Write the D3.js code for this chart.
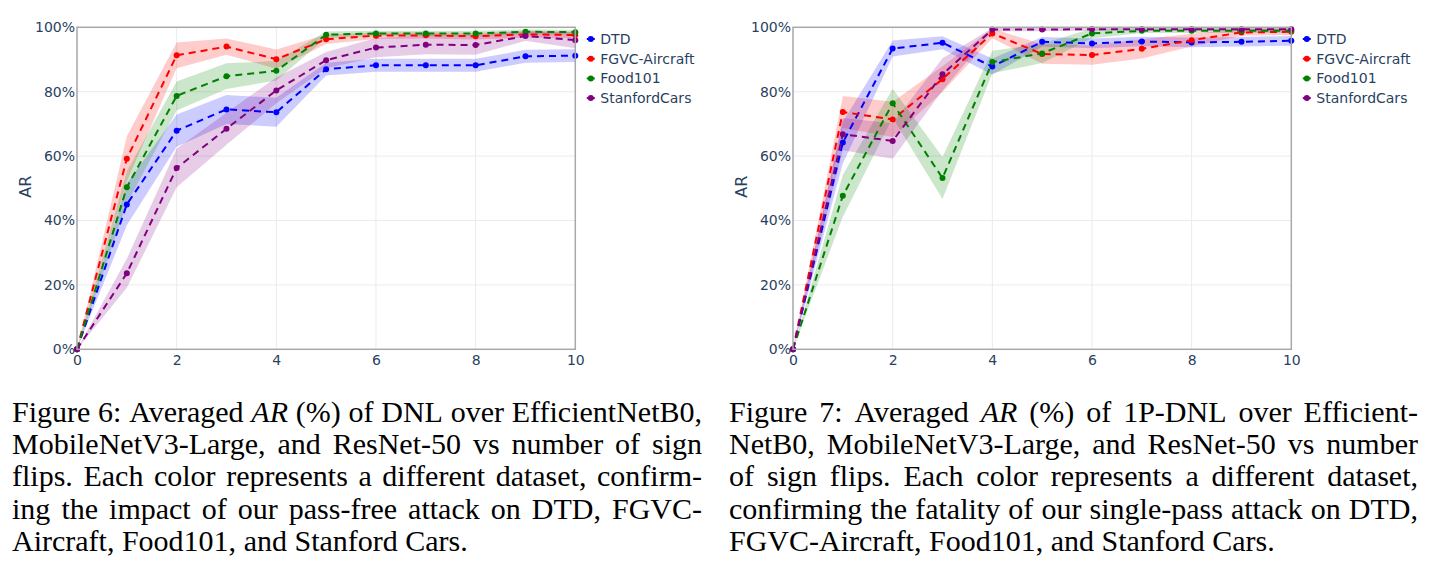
<!DOCTYPE html>
<html>
<head>
<meta charset="utf-8">
<style>
body {
    margin: 0;
    background: #fff;
}
.tick text {
    font-family: "DejaVu Sans", sans-serif;
    font-size: 14px;
    fill: #2a3f5f;
}
.legend text {
    font-family: "DejaVu Sans", sans-serif;
    font-size: 14px;
    fill: #2a3f5f;
}
.caption text {
    font-family: "Liberation Serif", "Times New Roman", serif;
    font-size: 30px;
    fill: #000;
}
</style>
</head>
<body>
<svg id="fig" width="1434" height="576"></svg>
<script src="https://d3js.org/d3.v7.min.js"></script>
<script>
// number of sign flips on the x axis
var flips = [0, 1, 2, 3, 4, 5, 6, 7, 8, 9, 10];
var datasets = ["DTD", "FGVC-Aircraft", "Food101", "StanfordCars"];
var colors = ["blue", "red", "green", "purple"];
var xTicks = [0, 2, 4, 6, 8, 10];
var yTicks = [0, 20, 40, 60, 80, 100];

// Figure 6 - DNL (mean AR %, and half-width of shaded band)
var dnlDTD     = [0, 45.0, 67.9, 74.5, 73.6, 87.0, 88.2, 88.2, 88.2, 91.0, 91.2];
var dnlDTDErr  = [0, 6.5, 5.0, 4.5, 4.5, 2.0, 2.0, 2.0, 2.0, 2.0, 2.0];
var dnlFGVC    = [0, 59.2, 91.3, 94.0, 90.1, 96.3, 97.4, 97.5, 97.2, 97.8, 97.6];
var dnlFGVCErr = [0, 7.0, 4.0, 2.5, 3.0, 1.5, 1.0, 1.0, 1.0, 1.0, 1.0];
var dnlFood    = [0, 50.3, 78.7, 84.8, 86.5, 97.7, 98.1, 98.1, 98.1, 98.6, 98.5];
var dnlFoodErr = [0, 5.0, 4.5, 4.0, 3.0, 1.0, 0.8, 0.8, 0.8, 0.7, 0.7];
var dnlCars    = [0, 23.6, 56.3, 68.5, 80.4, 89.8, 93.7, 94.6, 94.5, 97.3, 96.0];
var dnlCarsErr = [0, 4.5, 6.0, 5.0, 4.0, 2.5, 3.0, 3.0, 3.0, 1.5, 2.5];

// Figure 7 - 1P-DNL
var onepDTD     = [0, 64.2, 93.4, 95.2, 87.8, 95.5, 95.0, 95.6, 95.3, 95.5, 95.8];
var onepDTDErr  = [0, 6.5, 2.5, 2.0, 2.5, 1.5, 1.5, 1.5, 1.5, 1.5, 1.5];
var onepFGVC    = [0, 73.7, 71.4, 83.9, 98.1, 91.7, 91.4, 93.3, 96.0, 98.4, 98.6];
var onepFGVCErr = [0, 5.0, 5.5, 4.0, 1.5, 3.0, 3.0, 3.0, 2.0, 1.0, 1.0];
var onepFood    = [0, 47.7, 76.4, 53.2, 89.2, 91.9, 98.1, 98.9, 98.9, 98.9, 98.9];
var onepFoodErr = [0, 6.5, 4.5, 6.5, 3.5, 3.0, 1.5, 0.7, 0.7, 0.7, 0.7];
var onepCars    = [0, 66.8, 64.7, 85.4, 99.3, 99.3, 99.4, 99.4, 99.4, 99.4, 99.4];
var onepCarsErr = [0, 5.0, 5.5, 5.0, 0.5, 0.5, 0.5, 0.5, 0.5, 0.5, 0.5];

var caption6 = [
    "Figure 6: Averaged *AR (%) of DNL over EfficientNetB0,",
    "MobileNetV3-Large, and ResNet-50 vs number of sign",
    "flips. Each color represents a different dataset, confirm-",
    "ing the impact of our pass-free attack on DTD, FGVC-",
    "Aircraft, Food101, and Stanford Cars."
];
var caption7 = [
    "Figure 7: Averaged *AR (%) of 1P-DNL over Efficient-",
    "NetB0, MobileNetV3-Large, and ResNet-50 vs number",
    "of sign flips. Each color represents a different dataset,",
    "confirming the fatality of our single-pass attack on DTD,",
    "FGVC-Aircraft, Food101, and Stanford Cars."
];

var svg = d3.select("#fig");

function drawPanel(left, means, errs) {
    var x = d3.scaleLinear().domain([0, 10]).range([left, left + 498.3]);
    var y = d3.scaleLinear().domain([0, 100]).range([349.3, 27.3]);
    var g = svg.append("g");

    // grid
    g.selectAll(".gx").data(xTicks.slice(1, -1)).enter().append("line")
        .attr("x1", d => x(d)).attr("x2", d => x(d))
        .attr("y1", y(0)).attr("y2", y(100))
        .attr("stroke", "#ebebeb").attr("stroke-width", 1);
    g.selectAll(".gy").data(yTicks.slice(1, -1)).enter().append("line")
        .attr("x1", x(0)).attr("x2", x(10))
        .attr("y1", d => y(d)).attr("y2", d => y(d))
        .attr("stroke", "#ebebeb").attr("stroke-width", 1);

    // shaded bands
    var area = d3.area()
        .x((d, i) => x(flips[i]))
        .y0(d => y(d[0] - d[1]))
        .y1(d => y(Math.min(100, d[0] + d[1])));
    var line = d3.line()
        .x((d, i) => x(flips[i]))
        .y(d => y(d));

    means.forEach(function(m, k) {
        g.append("path")
            .datum(m.map((v, i) => [v, errs[k][i]]))
            .attr("d", area)
            .attr("fill", colors[k])
            .attr("fill-opacity", 0.2)
            .attr("stroke", "none");
    });
    means.forEach(function(m, k) {
        g.append("path")
            .datum(m)
            .attr("d", line)
            .attr("fill", "none")
            .attr("stroke", colors[k])
            .attr("stroke-width", 2)
            .attr("stroke-dasharray", "7,5");
        g.selectAll(".pt" + k).data(m).enter().append("circle")
            .attr("cx", (d, i) => x(flips[i]))
            .attr("cy", d => y(d))
            .attr("r", 3)
            .attr("fill", colors[k]);
    });

    // frame
    g.append("rect")
        .attr("x", x(0)).attr("y", y(100))
        .attr("width", x(10) - x(0)).attr("height", y(0) - y(100))
        .attr("fill", "none").attr("stroke", "#a8a8a8").attr("stroke-width", 1.5);

    // axes
    var xAxis = d3.axisBottom(x).tickValues(xTicks).tickSize(0).tickPadding(6);
    g.append("g").attr("transform", "translate(0," + y(0) + ")")
        .call(xAxis)
        .call(a => a.select(".domain").remove());
    var yAxis = d3.axisLeft(y).tickValues(yTicks).tickSize(0).tickPadding(2)
        .tickFormat(d => d + "%");
    g.append("g").attr("transform", "translate(" + x(0) + ",0)")
        .call(yAxis)
        .call(a => a.select(".domain").remove());

    g.append("text")
        .attr("transform", "translate(" + (left - 46.5) + "," + y(50.5) + ") rotate(-90)")
        .attr("text-anchor", "middle")
        .attr("font-family", "DejaVu Sans, sans-serif")
        .attr("font-size", 16)
        .attr("fill", "#2a3f5f")
        .text("AR");

    // legend
    var legend = g.append("g").attr("class", "legend");
    var item = legend.selectAll("g").data(datasets).enter().append("g")
        .attr("transform", (d, i) => "translate(" + (x(10) + 15.5) + "," + (39 + i * 19.7) + ")");
    item.append("line")
        .attr("x1", -4).attr("x2", 4).attr("y1", 0).attr("y2", 0)
        .attr("stroke", (d, i) => colors[i]).attr("stroke-width", 2);
    item.append("circle").attr("r", 3).attr("fill", (d, i) => colors[i]);
    item.append("text")
        .attr("x", 9.5).attr("dy", "0.36em")
        .text(d => d);
}

function drawCaption(left, width, lines) {
    var g = svg.append("g").attr("class", "caption");
    lines.forEach(function(str, li) {
        var words = str.split(" ");
        var t = g.append("text").attr("y", 422 + li * 32.2);
        var spans = words.map(function(w) {
            var italic = w.charAt(0) === "*";
            var s = t.append("tspan").text(italic ? w.slice(1) : w);
            if (italic) s.attr("font-style", "italic");
            return s;
        });
        var widths = spans.map(s => s.node().getComputedTextLength());
        var total = d3.sum(widths);
        var last = li === lines.length - 1;
        var gap = last ? 30 * 0.25 : (width - total) / (words.length - 1);
        var cx = left;
        spans.forEach(function(s, i) {
            s.attr("x", cx);
            cx += widths[i] + gap;
        });
    });
}

drawPanel(77, [dnlDTD, dnlFGVC, dnlFood, dnlCars], [dnlDTDErr, dnlFGVCErr, dnlFoodErr, dnlCarsErr]);
drawPanel(793, [onepDTD, onepFGVC, onepFood, onepCars], [onepDTDErr, onepFGVCErr, onepFoodErr, onepCarsErr]);
drawCaption(12, 690, caption6);
drawCaption(729, 689, caption7);
</script>
</body>
</html>
